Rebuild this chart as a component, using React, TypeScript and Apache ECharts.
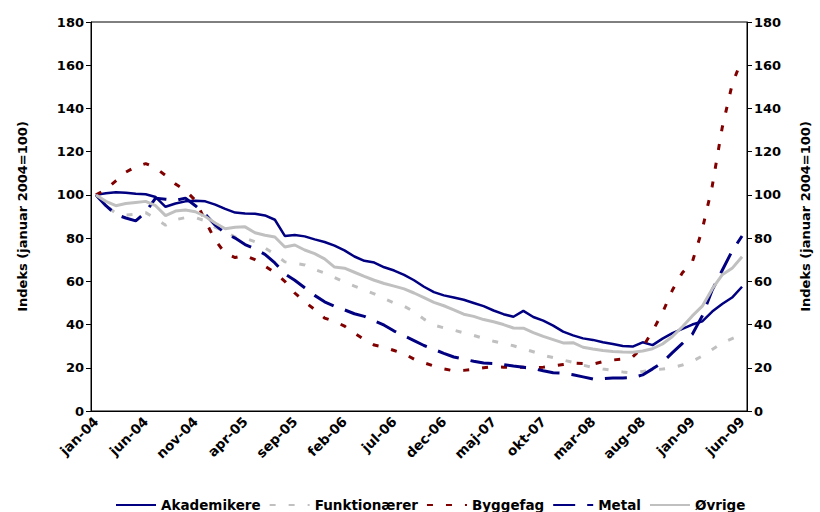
import React, { useEffect, useRef } from "react";
import * as echarts from "echarts";

const monthNames = ["jan", "feb", "mar", "apr", "maj", "jun", "jul", "aug", "sep", "okt", "nov", "dec"];
const years = ["04", "05", "06", "07", "08", "09"];
const categories: string[] = [];
for (const y of years) {
  for (const m of monthNames) {
    categories.push(m + "-" + y);
  }
}
categories.length = 66;

const akademikere = [100,100.8,101.2,101,100.5,100.3,99,94.5,96,97,
  97.3,97,95.5,93.5,91.8,91.4,91.3,90.5,88.5,81,
  81.4,80.8,79.4,78.2,76.5,74.3,71.5,69.5,68.7,66.5,
  65,63,60.5,57.5,55,53.5,52.5,51.5,50,48.5,
  46.5,44.8,43.6,46.3,43.5,41.8,39.5,36.7,35,33.6,
  32.9,31.8,31,30.1,29.8,31.8,30.5,33.5,36,38,
  40,41.5,46,49.5,52.5,57.5];

const funktionaerer = [100,95,91.5,90.7,91,91.8,89,86,88.5,89.5,
  89.5,88,85,83,80.5,80,78.3,75.5,72.5,69,
  68.3,67.6,65.5,63.9,61.8,59.6,57.8,56,54.2,52,
  50,48.5,46,42.5,39.7,38.5,37.4,36.2,35,33.6,
  32.3,31.3,30.2,28.8,27.4,25.8,24.7,23.6,22.5,21.2,
  20.2,19.4,18.8,18.1,17.6,18.3,19,19.4,20,21.3,
  23,25.5,28.5,31.5,33.5,35.5];

const byggefag = [100,102.5,106.5,110.5,113,114.5,112.5,109,105,102,
  97.5,88,79,73,71,72,70,67,64,60,
  54.6,50.5,47,43,41.5,39.3,36,33,30.5,29.5,
  28,26.5,24,22.3,20.8,19.5,18.6,18.8,19.3,20,
  20.5,20.3,20.2,20.2,20,20.3,20.8,21.5,22.2,22,
  21.7,22.8,23.6,24,25,29.5,37,45.5,56,64,
  69,84,104,131,151,163];

const metal = [100,95,91,89.3,88,92,98.5,98,97.5,98.5,
  95,91,86,82.3,80,77,75,72.5,68.5,63.5,
  60.5,57,53.5,50.5,48.5,46.8,45,43.8,41.8,39.7,
  37,34.8,32.6,30.3,28.5,26.7,25,24,23,22.2,
  22,21.5,20.8,20.2,19.6,18.6,17.7,17.5,16.8,15.8,
  14.8,15,15.3,15.3,15.5,16.7,19.5,22.5,27,31.3,
  35.5,44,56,65,74,81];

const ovrige = [100,97,95,96,96.5,97,95,90.4,92.5,93,
  92.2,90,87,84.3,85,85.2,82.5,81.3,80.5,75.9,
  76.8,74.5,72.8,70.4,66.6,66.1,64.2,62.3,60.5,59,
  57.8,56.5,54.6,52.5,50.3,48.7,46.8,44.8,43.8,42.3,
  41.3,40,38.4,38.3,36.3,34.5,33,31.5,31.6,29.5,
  28.7,28,27.5,27.3,27.2,27.8,28.8,31,34.5,39,
  44,48.5,56.5,63,66,71.4];

const seriesNames = ["Akademikere", "Funktionærer", "Byggefag", "Metal", "Øvrige"];
const axisName = "Indeks (januar 2004=100)";

const FONT = "DejaVu Sans";

export default function App() {
  const ref = useRef<HTMLDivElement>(null);
  useEffect(() => {
    if (!ref.current) return;
    const chart = echarts.init(ref.current, undefined, { renderer: "svg" });
    const labelStyle = { fontFamily: FONT, fontWeight: "bold" as const, fontSize: 13, color: "#000" };
    const yBase = {
      type: "value" as const,
      min: 0,
      max: 180,
      interval: 20,
      name: axisName,
      nameLocation: "middle" as const,
      nameRotate: 90,
      nameTextStyle: { fontFamily: FONT, fontWeight: "bold" as const, fontSize: 13, color: "#000" },
      axisLine: { show: true, lineStyle: { color: "#000", width: 1 } },
      axisTick: { show: true, length: 5, inside: false, lineStyle: { color: "#000" } },
      axisLabel: { ...labelStyle, margin: 7 },
      splitLine: { show: false },
    };
    const mk = (name: string, data: number[], color: string, type: any, width: number) => ({
      name,
      type: "line" as const,
      data,
      symbol: "none",
      showSymbol: false,
      smooth: false,
      itemStyle: { color },
      lineStyle: { color, width, type, cap: "butt" },
    });
    chart.setOption({
      animation: false,
      backgroundColor: "#fff",
      grid: { left: 91, right: 64, top: 22, bottom: 101, show: true, borderColor: "#000", borderWidth: 1, backgroundColor: "transparent" },
      legend: {
        top: 493,
        left: 110,
        itemWidth: 40,
        itemHeight: 14,
        itemGap: 8,
        itemStyle: { opacity: 0 },
        textStyle: { fontFamily: FONT, fontWeight: "bold", fontSize: 13.5, color: "#000" },
        data: seriesNames,
      },
      xAxis: {
        type: "category",
        data: categories,
        boundaryGap: true,
        axisLine: { lineStyle: { color: "#000", width: 1 } },
        axisTick: { interval: 4, length: 5, lineStyle: { color: "#000" } },
        axisLabel: { ...labelStyle, fontSize: 13.5, interval: 4, rotate: 45, margin: 8 },
        splitLine: { show: false },
      },
      yAxis: [
        { ...yBase, position: "left", nameGap: 62 },
        { ...yBase, position: "right", nameGap: 52 },
      ],
      series: [
        mk(seriesNames[0], akademikere, "#000080", "solid", 2.5),
        mk(seriesNames[1], funktionaerer, "#C0C0C0", [6, 13], 3),
        mk(seriesNames[2], byggefag, "#800000", [6, 13], 3),
        mk(seriesNames[3], metal, "#000080", [22, 12], 3),
        mk(seriesNames[4], ovrige, "#C0C0C0", "solid", 3),
      ],
    });
    return () => chart.dispose();
  }, []);
  return <div ref={ref} style={{ position: "fixed", left: 0, top: 0, width: 820, height: 512 }} />;
}
